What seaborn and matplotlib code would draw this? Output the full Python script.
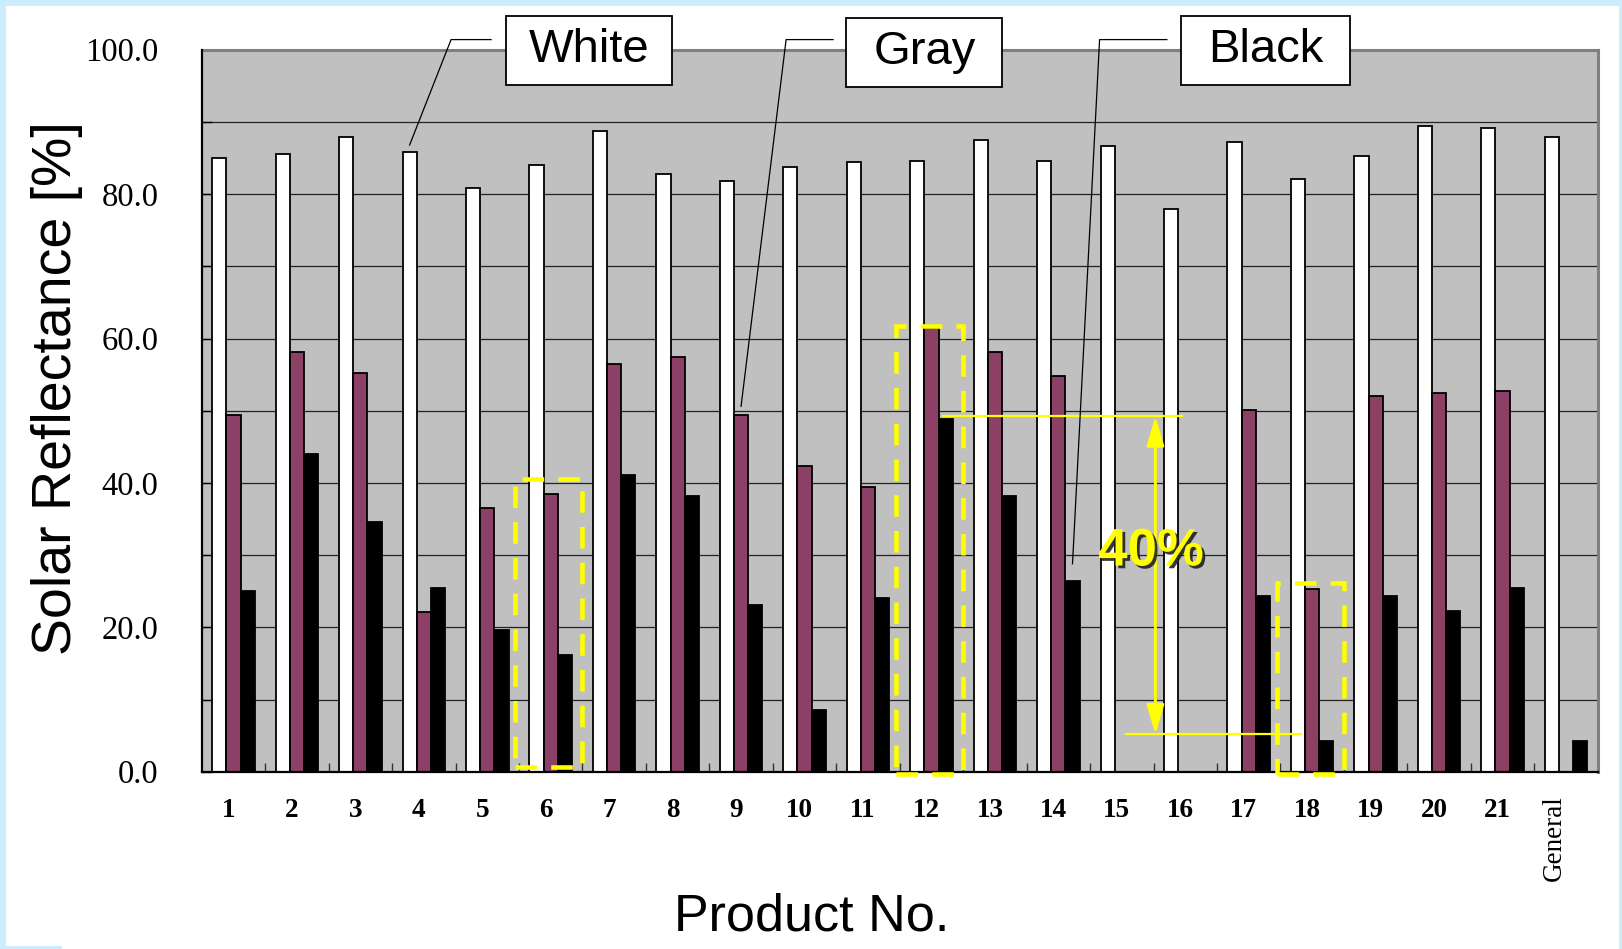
import numpy as np
import pandas as pd
import matplotlib
matplotlib.use("Agg")
import matplotlib.pyplot as plt
import matplotlib.patheffects as pe
import matplotlib.transforms as mtransforms
from matplotlib.patches import Rectangle
import seaborn as sns

# ---- data -------------------------------------------------------------
products = [str(i) for i in range(1, 22)] + ["General"]
finishes = ["White", "Gray", "Black"]
white = [85.0, 85.6, 87.9, 85.9, 80.8, 84.0, 88.8, 82.8, 81.8, 83.7, 84.4,
         84.6, 87.5, 84.6, 86.6, 78.0, 87.2, 82.1, 85.3, 89.5, 89.2, 87.9]
gray = [49.4, 58.1, 55.2, 22.1, 36.5, 38.5, 56.5, 57.4, 49.4, 42.3, 39.4,
        61.5, 58.1, 54.8, np.nan, np.nan, 50.1, 25.3, 52.0, 52.4, 52.7, np.nan]
black = [25.0, 44.0, 34.6, 25.4, 19.6, 16.1, 41.1, 38.2, 23.1, 8.5, 24.1,
         48.9, 38.2, 26.4, np.nan, np.nan, 24.4, 4.3, 24.4, 22.2, 25.4, 4.3]
y_ticks = list(range(0, 101, 10))
y_labelled = [0, 20, 40, 60, 80, 100]

# highlighted products (dashed frames) and frame heights
highlight = ["6", "12", "18"]
highlight_top = [40.5, 61.8, 26.2]
highlight_bottom = [0.6, -0.3, -0.3]

# reflectance gap marker
gap_high, gap_low, gap_text = 49.2, 5.2, "40%"

colors = {"White": "#FFFFFF", "Gray": "#993366", "Black": "#000000"}

df = pd.DataFrame({
    "product": products * 3,
    "finish": ["White"] * 22 + ["Gray"] * 22 + ["Black"] * 22,
    "value": white + gray + black,
}).dropna()

# ---- figure -----------------------------------------------------------
W, H = 1622, 949
fig = plt.figure(figsize=(W / 100, H / 100), dpi=100)
fig.patch.set_facecolor("#CCECFF")
fig.add_artist(Rectangle((6 / W, 0), (1619 - 6) / W, (H - 6) / H,
                         transform=fig.transFigure, fc="white", ec="none", zorder=-10))
fig.add_artist(Rectangle((0, 0), 62 / W, 3 / H, transform=fig.transFigure,
                         fc="#CCECFF", ec="none", zorder=-9))

L, R, T, B = 201.7, 1597.7, 49.7, 771.7
ax = fig.add_axes([L / W, 1 - B / H, (R - L) / W, (B - T) / H])
ax.set_facecolor("#C0C0C0")

bar_w = 0.67
sns.barplot(data=df, x="product", y="value", hue="finish", order=products,
            hue_order=finishes, palette=colors, width=bar_w, gap=0,
            edgecolor="black", linewidth=1.3, errorbar=None, legend=False, ax=ax)
sub = bar_w / 3

ax.set_xlim(-0.5, len(products) - 0.5)
ax.set_ylim(0, 100)
ax.set_xlabel("")
ax.set_ylabel("")

# grid & spines
ax.set_axisbelow(True)
ax.yaxis.grid(True, color="#222222", lw=0.9)
ax.xaxis.grid(False)
for s in ["left", "bottom"]:
    ax.spines[s].set_color("black")
    ax.spines[s].set_linewidth(1.6)
    ax.spines[s].set_zorder(5)
for s in ["top", "right"]:
    ax.spines[s].set_color("#808080")
    ax.spines[s].set_linewidth(2.2)

# y ticks
ax.set_yticks(y_ticks)
ax.set_yticklabels([f"{v:.1f}" if v in y_labelled else "" for v in y_ticks],
                   family="Liberation Serif", fontsize=23.5)
ax.tick_params(axis="y", direction="in", length=7, width=1, pad=31, color="black")

# x ticks: labels at group centers, small ticks at group boundaries
ax.set_xticks(range(len(products)))
ax.set_xticklabels(products, family="Liberation Serif", fontsize=19.5,
                   fontweight="bold")
ax.tick_params(axis="x", which="major", length=0, pad=19)
ax.set_xticks(np.arange(0.5, len(products) - 1, 1), minor=True)
ax.tick_params(axis="x", which="minor", direction="in", length=6.5, width=1,
               color="#333333")
xlabels = ax.get_xticklabels()
for lab in xlabels[:-1]:
    lab.set_transform(lab.get_transform() +
                      mtransforms.ScaledTranslation(-5 / 100, 0, fig.dpi_scale_trans))
last = xlabels[-1]
last.set_rotation(90)
last.set_fontweight("normal")
last.set_va("top")
last.set_transform(last.get_transform() +
                   mtransforms.ScaledTranslation(-12 / 100, 3 / 100, fig.dpi_scale_trans))

# axis titles
fig.text(57 / W, 1 - 388 / H, "Solar Reflectance [%]", rotation=90,
         ha="center", va="center", family="Liberation Sans", fontsize=40)
fig.text(812 / W, 1 - 917 / H, "Product No.", ha="center", va="center",
         family="Liberation Sans", fontsize=37.5)

# ---- callout labels for the three finishes ----------------------------
callouts = [
    # label, box center (x, y), box width, leader start x, elbow x, target (x, y)
    ("White", (5.60, 99.9), 2.62, 4.06, 3.43, (3 - sub, white[3] + 0.9)),
    ("Gray", (10.89, 99.65), 2.46, 9.45, 8.71, (8, gray[8] + 1.2)),
    ("Black", (16.27, 99.9), 2.66, 14.71, 13.65, (13 + sub, black[13] + 2.4)),
]
box_h = 9.6
for label, (cx, cy), bw, sx, ex, (px, py) in callouts:
    ax.add_patch(Rectangle((cx - bw / 2, cy - box_h / 2), bw, box_h, fc="white",
                           ec="black", lw=1.3, zorder=11, clip_on=False))
    ax.text(cx, cy, label, ha="center", va="center", family="Liberation Sans",
            fontsize=34, zorder=12, clip_on=False)
    ax.plot([sx, ex, px], [101.4, 101.4, py], color="black", lw=0.9,
            zorder=11, clip_on=False)

# ---- dashed highlight frames ------------------------------------------
for name, top, bot in zip(highlight, highlight_top, highlight_bottom):
    i = products.index(name)
    ax.add_patch(Rectangle((i - 0.56, bot), 1.06, top - bot, fill=False,
                           ec="#FFFF00", lw=3.3, ls=(0, (4.7, 3.1)),
                           zorder=8, clip_on=False))

# ---- reflectance gap marker -------------------------------------------
ax.plot([11.18, 14.95], [gap_high, gap_high], color="#FFFF00", lw=1.6, zorder=7)
ax.plot([14.06, 16.83], [gap_low, gap_low], color="#FFFF00", lw=1.6, zorder=7)
ax.annotate("", xy=(14.53, gap_high), xytext=(14.53, gap_low),
            arrowprops=dict(arrowstyle="<|-|>,head_length=0.9,head_width=0.27",
                            mutation_scale=20, color="#FFFF00", lw=2,
                            shrinkA=0, shrinkB=0), zorder=7)
ax.text(14.46, 30.5, gap_text, ha="center", va="center", color="#FFFF00",
        family="Liberation Sans", fontsize=38, fontweight="bold", zorder=9,
        path_effects=[pe.SimplePatchShadow(offset=(2, -2), shadow_rgbFace="#222222",
                                           alpha=0.9), pe.Normal()])

fig.savefig("out.png", dpi=100, facecolor=fig.get_facecolor())
